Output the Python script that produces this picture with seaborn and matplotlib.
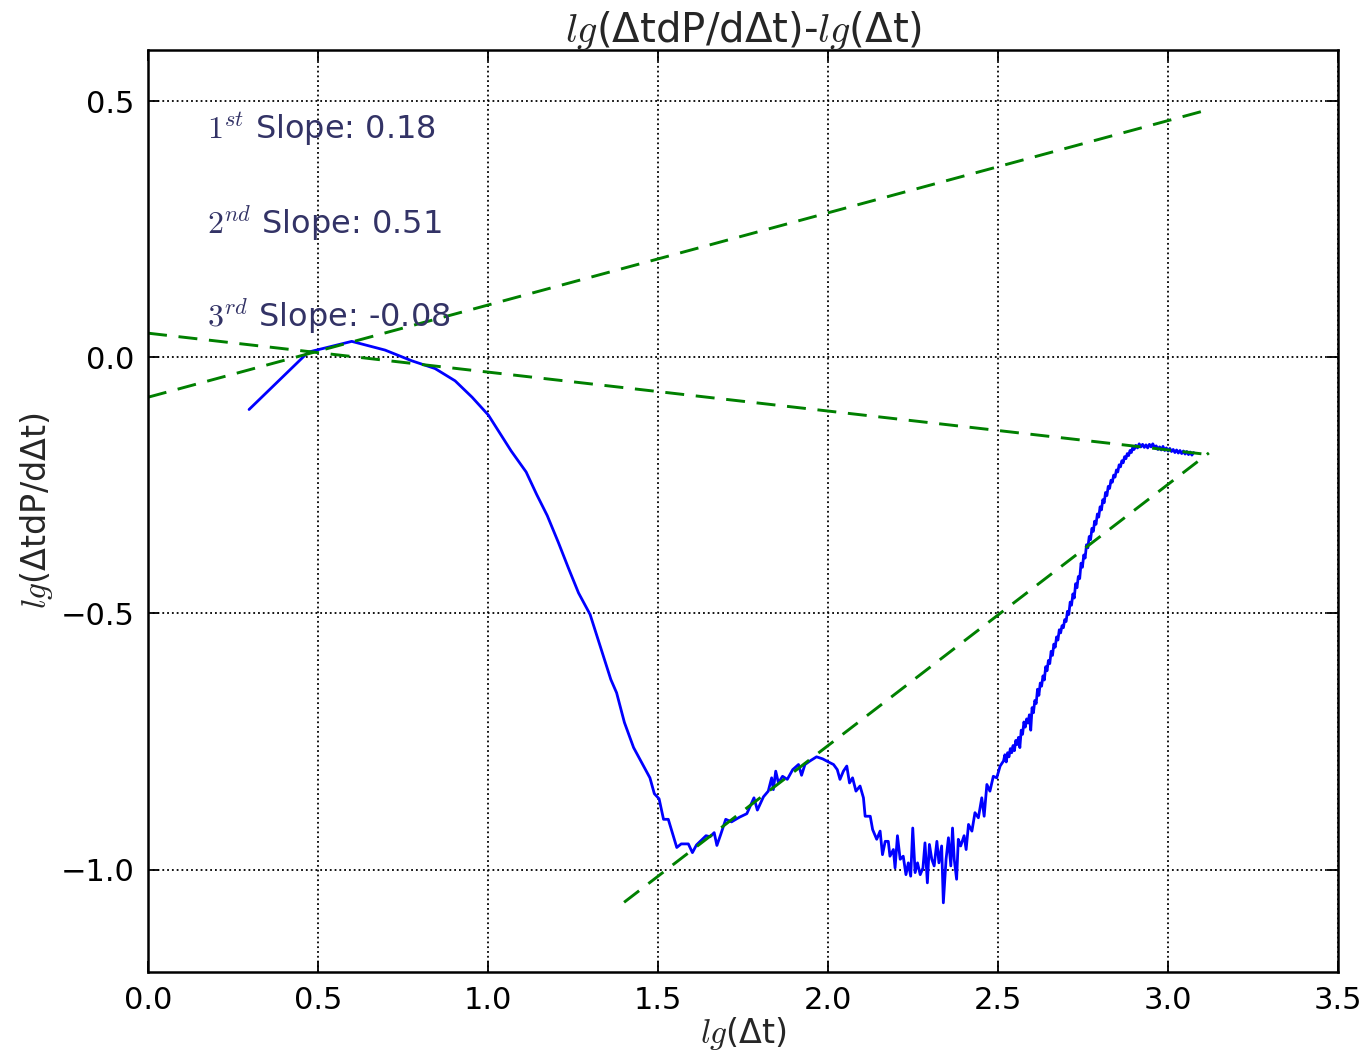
import matplotlib
matplotlib.use("Agg")
import matplotlib.pyplot as plt
import numpy as np
import pandas as pd
import seaborn as sns

sns.set_style("ticks")
plt.rcParams["font.family"] = ["DejaVu Sans"]
plt.rcParams["mathtext.fontset"] = "cm"

# Pressure-derivative curve in log-log coordinates
lg_dt = [
    0.297, 0.471, 0.599, 0.697, 0.776, 0.844, 0.903, 0.953, 1.001, 1.068,
    1.112, 1.143, 1.174, 1.207, 1.236, 1.266, 1.300, 1.339, 1.361, 1.378,
    1.401, 1.428, 1.476, 1.489, 1.503, 1.516, 1.530, 1.555, 1.568, 1.589,
    1.601, 1.613, 1.641, 1.653, 1.665, 1.673, 1.684, 1.699, 1.716, 1.739,
    1.761, 1.782, 1.792, 1.810, 1.824, 1.834, 1.839, 1.846, 1.854, 1.866,
    1.880, 1.896, 1.913, 1.922, 1.932, 1.947, 1.966, 1.984, 2.001, 2.016,
    2.027, 2.035, 2.045, 2.055, 2.063, 2.072, 2.082, 2.094, 2.104, 2.109,
    2.124, 2.131, 2.143, 2.153, 2.160, 2.168, 2.177, 2.182, 2.192, 2.197,
    2.204, 2.212, 2.221, 2.229, 2.236, 2.243, 2.249, 2.256, 2.263, 2.271,
    2.279, 2.285, 2.292, 2.298, 2.305, 2.312, 2.320, 2.326, 2.334, 2.339,
    2.347, 2.354, 2.361, 2.366, 2.371, 2.378, 2.383, 2.390, 2.400, 2.406,
    2.413, 2.423, 2.432, 2.442, 2.452, 2.459, 2.467, 2.476, 2.486, 2.496,
    2.506, 2.516,
    2.520, 2.524, 2.528, 2.532, 2.536, 2.540, 2.544, 2.548, 2.552, 2.556,
    2.560, 2.564, 2.568, 2.572, 2.576, 2.580, 2.584, 2.588, 2.592, 2.596,
    2.600, 2.604, 2.608, 2.612, 2.616, 2.620, 2.624, 2.628, 2.632, 2.636,
    2.640, 2.644, 2.648, 2.652, 2.656, 2.660, 2.664, 2.668, 2.672, 2.676,
    2.680, 2.684, 2.688, 2.692, 2.696, 2.700, 2.704, 2.708, 2.712, 2.716,
    2.720, 2.724, 2.728, 2.732, 2.736, 2.740, 2.744, 2.748, 2.752, 2.756,
    2.760, 2.764, 2.768, 2.772, 2.776, 2.780, 2.784, 2.788, 2.792, 2.796,
    2.800, 2.804, 2.808, 2.812, 2.816, 2.820, 2.824, 2.828, 2.832, 2.836,
    2.840, 2.844, 2.848, 2.852, 2.856, 2.860, 2.864, 2.868, 2.872, 2.876,
    2.880, 2.884, 2.888, 2.892, 2.896, 2.900, 2.905, 2.910, 2.915, 2.920,
    2.925, 2.930, 2.935, 2.940, 2.945, 2.950, 2.955, 2.960, 2.965, 2.970,
    2.975, 2.980, 2.985, 2.990, 2.995, 3.000, 3.005, 3.010, 3.015, 3.020,
    3.025, 3.030, 3.035, 3.040, 3.045, 3.050, 3.055, 3.060, 3.065, 3.070,
    3.075,
]
lg_deriv = [
    -0.102, 0.010, 0.031, 0.014, -0.007, -0.022, -0.046, -0.078, -0.113, -0.183,
    -0.224, -0.268, -0.309, -0.362, -0.411, -0.460, -0.502, -0.583, -0.629, -0.655,
    -0.713, -0.762, -0.821, -0.852, -0.862, -0.902, -0.902, -0.957, -0.950, -0.950,
    -0.967, -0.952, -0.934, -0.936, -0.928, -0.953, -0.932, -0.902, -0.907, -0.898,
    -0.891, -0.860, -0.884, -0.858, -0.847, -0.821, -0.844, -0.808, -0.831, -0.818,
    -0.824, -0.805, -0.795, -0.816, -0.795, -0.788, -0.780, -0.784, -0.790, -0.795,
    -0.805, -0.824, -0.808, -0.798, -0.831, -0.821, -0.847, -0.837, -0.860, -0.896,
    -0.896, -0.922, -0.941, -0.925, -0.971, -0.945, -0.945, -0.974, -0.961, -0.997,
    -0.934, -0.980, -0.974, -1.010, -0.987, -1.013, -0.919, -1.006, -0.987, -1.010,
    -0.997, -0.948, -1.026, -0.951, -0.980, -0.993, -0.945, -0.987, -0.954, -1.065,
    -0.980, -0.938, -0.993, -0.919, -0.980, -1.019, -0.941, -0.954, -0.934, -0.961,
    -0.912, -0.925, -0.889, -0.899, -0.860, -0.896, -0.834, -0.847, -0.818, -0.821,
    -0.798, -0.788,
    -0.776, -0.790, -0.772, -0.780, -0.764, -0.772, -0.758, -0.768, -0.748, -0.756,
    -0.742, -0.762, -0.728, -0.736, -0.712, -0.722, -0.706, -0.714, -0.698, -0.728,
    -0.684, -0.694, -0.670, -0.676, -0.648, -0.660, -0.636, -0.642, -0.622, -0.630,
    -0.604, -0.612, -0.592, -0.598, -0.574, -0.582, -0.560, -0.566, -0.546, -0.552,
    -0.532, -0.538, -0.524, -0.528, -0.512, -0.516, -0.496, -0.502, -0.478, -0.484,
    -0.462, -0.470, -0.442, -0.450, -0.428, -0.432, -0.402, -0.410, -0.386, -0.392,
    -0.366, -0.372, -0.350, -0.356, -0.334, -0.340, -0.320, -0.326, -0.306, -0.312,
    -0.292, -0.298, -0.278, -0.284, -0.264, -0.270, -0.252, -0.256, -0.240, -0.244,
    -0.230, -0.234, -0.220, -0.224, -0.210, -0.214, -0.202, -0.206, -0.194, -0.198,
    -0.188, -0.192, -0.182, -0.186, -0.176, -0.180, -0.172, -0.177, -0.169, -0.175,
    -0.170, -0.176, -0.171, -0.177, -0.170, -0.175, -0.169, -0.176, -0.173, -0.180,
    -0.175, -0.181, -0.174, -0.182, -0.177, -0.183, -0.178, -0.184, -0.180, -0.186,
    -0.181, -0.187, -0.182, -0.188, -0.183, -0.189, -0.184, -0.190, -0.185, -0.191,
    -0.186,
]

# Fitted straight-line segments (slope, intercept, x range)
fit_labels = ["$1^{st}$", "$2^{nd}$", "$3^{rd}$"]
fit_slopes = [0.18, 0.51, -0.076]
fit_intercepts = [-0.078, -1.778, 0.047]
fit_x_start = [0.0, 1.40, 0.0]
fit_x_end = [3.12, 3.12, 3.12]
slope_texts = ["0.18", "0.51", "-0.08"]
text_y = [0.443, 0.262, 0.080]

curve = pd.DataFrame({"x": lg_dt, "y": lg_deriv})

fig = plt.figure(figsize=(13.71, 10.55), dpi=100)
ax = fig.add_axes([0.108, 0.0787, 0.868, 0.874])

sns.lineplot(data=curve, x="x", y="y", sort=False, estimator=None,
             color="#0000ff", linewidth=2.0, ax=ax)

for s, b, x0, x1 in zip(fit_slopes, fit_intercepts, fit_x_start, fit_x_end):
    xs = np.array([x0, x1])
    ax.plot(xs, b + s * xs, color="green", linestyle=(0, (6.5, 4.0)),
            linewidth=2.1)

for lab, txt, ty in zip(fit_labels, slope_texts, text_y):
    ax.text(0.174, ty, f"{lab} Slope: {txt}", color="#333366",
            fontsize=23, va="center", ha="left")

ax.set_xlim(0.0, 3.5)
ax.set_ylim(-1.2, 0.6)
ax.set_xticks(np.arange(0.0, 3.51, 0.5))
ax.set_yticks([-1.0, -0.5, 0.0, 0.5])
ax.set_yticklabels(["\u22121.0", "\u22120.5", "0.0", "0.5"])
ax.set_xticklabels([f"{v:.1f}" for v in np.arange(0.0, 3.51, 0.5)])

ax.grid(True, color="black", linestyle=":", linewidth=1.3)
ax.tick_params(direction="in", length=8, width=1.3, labelsize=22,
               top=True, right=True, pad=10, colors="black")
for sp in ax.spines.values():
    sp.set_visible(True)
    sp.set_linewidth(1.8)
    sp.set_color("black")

ax.set_xlabel("$lg$(\u0394t)", fontsize=24, labelpad=0)
ax.set_ylabel("$lg$(\u0394tdP/d\u0394t)", fontsize=24, labelpad=4)
ax.set_title("$lg$(\u0394tdP/d\u0394t)-$lg$(\u0394t)", fontsize=29, pad=6)

fig.savefig("out.png", dpi=100)
